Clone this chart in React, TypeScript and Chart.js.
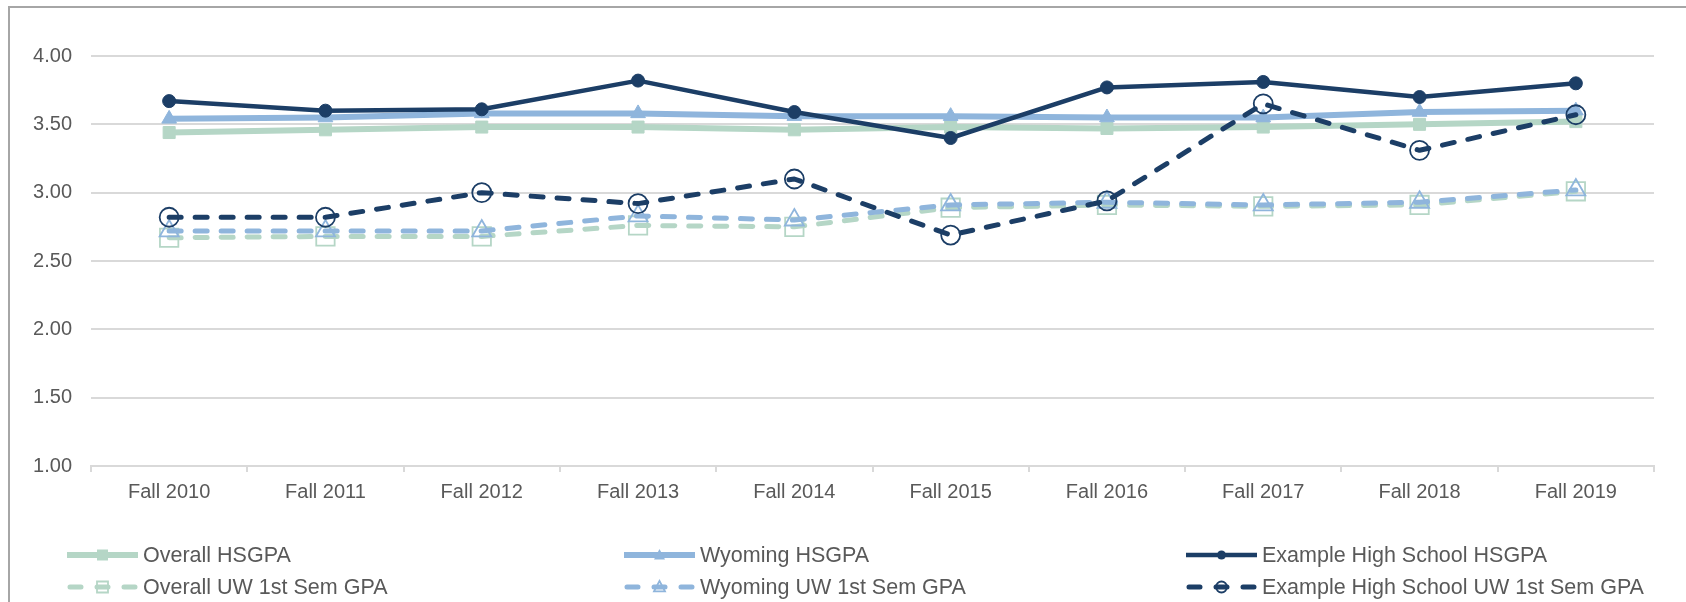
import React, { useEffect, useRef } from "react";
import { Chart, registerables } from "chart.js";

Chart.register(...registerables);

const categories = [
  "Fall 2010", "Fall 2011", "Fall 2012", "Fall 2013", "Fall 2014",
  "Fall 2015", "Fall 2016", "Fall 2017", "Fall 2018", "Fall 2019",
];

const overallHSGPA = [3.44, 3.46, 3.48, 3.48, 3.46, 3.48, 3.47, 3.48, 3.50, 3.52];
const wyomingHSGPA = [3.54, 3.55, 3.58, 3.58, 3.56, 3.56, 3.55, 3.55, 3.59, 3.60];
const exampleHSGPA = [3.67, 3.60, 3.61, 3.82, 3.59, 3.40, 3.77, 3.81, 3.70, 3.80];
const overallUW = [2.67, 2.68, 2.68, 2.76, 2.75, 2.89, 2.91, 2.90, 2.91, 3.01];
const wyomingUW = [2.72, 2.72, 2.72, 2.83, 2.80, 2.91, 2.93, 2.91, 2.93, 3.02];
const exampleUW = [2.82, 2.82, 3.00, 2.92, 3.10, 2.69, 2.94, 3.65, 3.31, 3.57];

const seriesNames = [
  "Overall HSGPA",
  "Wyoming HSGPA",
  "Example High School HSGPA",
  "Overall UW 1st Sem GPA",
  "Wyoming UW 1st Sem GPA",
  "Example High School UW 1st Sem GPA",
];

const yMin = 1;
const yMax = 4;
const yStep = 0.5;

const DARK = "#1c3e66";
const BLUE = "#8fb5dc";
const GREEN = "#b5d6c6";
const TEXT = "#595959";
const GRID = "#d9d9d9";
const FONT = "'Liberation Sans', Arial, sans-serif";

type Style = {
  color: string;
  width: number;
  dashed: boolean;
  shape: "rect" | "triangle" | "circle";
  filled: boolean;
};

const styles: Style[] = [
  { color: GREEN, width: 6, dashed: false, shape: "rect", filled: true },
  { color: BLUE, width: 6, dashed: false, shape: "triangle", filled: true },
  { color: DARK, width: 4.5, dashed: false, shape: "circle", filled: true },
  { color: GREEN, width: 5, dashed: true, shape: "rect", filled: false },
  { color: BLUE, width: 5, dashed: true, shape: "triangle", filled: false },
  { color: DARK, width: 5, dashed: true, shape: "circle", filled: false },
];

const pointRadii = [8.5, 8.5, 6.5, 13, 11, 9.5];

function drawMarker(ctx: CanvasRenderingContext2D, s: Style, x: number, y: number, r: number) {
  ctx.save();
  ctx.setLineDash([]);
  ctx.beginPath();
  if (s.shape === "rect") {
    ctx.rect(x - r, y - r, 2 * r, 2 * r);
  } else if (s.shape === "triangle") {
    ctx.moveTo(x, y - r * 1.1);
    ctx.lineTo(x + r, y + r * 0.8);
    ctx.lineTo(x - r, y + r * 0.8);
    ctx.closePath();
  } else {
    ctx.arc(x, y, r, 0, Math.PI * 2);
  }
  if (s.filled) {
    ctx.fillStyle = s.color;
    ctx.fill();
  } else {
    ctx.strokeStyle = s.color;
    ctx.lineWidth = 1.8;
    ctx.stroke();
  }
  ctx.restore();
}

const legendPlugin = {
  id: "customLegend",
  afterDraw(chart: any) {
    const ctx: CanvasRenderingContext2D = chart.ctx;
    const colX = [67, 624, 1186];
    const rowY = [555, 587];
    const lineLen = 71;
    seriesNames.forEach((name, i) => {
      const s = styles[i];
      const col = i % 3;
      const row = Math.floor(i / 3);
      const x0 = colX[col];
      const y = rowY[row];
      ctx.save();
      ctx.strokeStyle = s.color;
      ctx.lineWidth = s.width;
      ctx.lineCap = s.dashed ? "round" : "butt";
      if (s.dashed) {
        ctx.beginPath();
        ctx.moveTo(x0 + 3, y);
        ctx.lineTo(x0 + 14, y);
        ctx.moveTo(x0 + 57, y);
        ctx.lineTo(x0 + 68, y);
        ctx.stroke();
        ctx.beginPath();
        ctx.moveTo(x0 + 30, y);
        ctx.lineTo(x0 + 41, y);
        ctx.stroke();
      } else {
        ctx.beginPath();
        ctx.moveTo(x0, y);
        ctx.lineTo(x0 + lineLen, y);
        ctx.stroke();
      }
      ctx.restore();
      const mr = s.shape === "circle" ? (s.filled ? 4.5 : 5.5) : 5.5;
      drawMarker(ctx, s, x0 + lineLen / 2, y, mr);
      ctx.save();
      ctx.fillStyle = TEXT;
      ctx.font = `21.5px ${FONT}`;
      ctx.textBaseline = "middle";
      ctx.textAlign = "left";
      ctx.fillText(name, x0 + lineLen + 5, y + 1);
      ctx.restore();
    });
  },
};

export default function App() {
  const canvasRef = useRef<HTMLCanvasElement | null>(null);

  useEffect(() => {
    if (!canvasRef.current) return;
    const seriesData = [overallHSGPA, wyomingHSGPA, exampleHSGPA, overallUW, wyomingUW, exampleUW];
    const datasets = seriesData.map((d, i) => {
      const s = styles[i];
      return {
        label: seriesNames[i],
        data: d,
        borderColor: s.color,
        backgroundColor: s.color,
        borderWidth: s.width,
        borderDash: s.dashed ? [12, 14] : [],
        borderCapStyle: s.dashed ? "round" : "butt",
        borderJoinStyle: "round",
        tension: 0,
        fill: false,
        pointStyle: s.shape,
        pointRadius: pointRadii[i],
        pointHoverRadius: pointRadii[i],
        pointBackgroundColor: s.filled ? s.color : "rgba(0,0,0,0)",
        pointBorderColor: s.color,
        pointBorderWidth: s.filled ? 1 : 1.8,
        order: 5 - i,
      };
    });

    const chart = new Chart(canvasRef.current, {
      type: "line",
      data: { labels: categories, datasets: datasets as any },
      options: {
        animation: false,
        responsive: false,
        maintainAspectRatio: false,
        layout: { padding: { top: 56, right: 32, left: 0, bottom: 0 } },
        plugins: {
          legend: { display: false },
          tooltip: { enabled: false },
          title: { display: false },
        },
        scales: {
          x: {
            type: "category",
            offset: true,
            grid: {
              offset: true,
              drawOnChartArea: false,
              drawTicks: true,
              tickLength: 6,
              color: GRID,
              lineWidth: 2,
            },
            border: { display: true, color: GRID, width: 2 },
            ticks: {
              color: TEXT,
              font: { size: 20, family: FONT },
              padding: 8,
              maxRotation: 0,
              autoSkip: false,
            },
            afterFit: (scale: any) => {
              scale.height = 136;
            },
          },
          y: {
            min: yMin,
            max: yMax,
            grid: { color: GRID, lineWidth: 2, drawTicks: false },
            border: { display: false },
            ticks: {
              stepSize: yStep,
              color: TEXT,
              font: { size: 20, family: FONT },
              padding: 19,
              callback: (v: any) => Number(v).toFixed(2),
            },
            afterFit: (scale: any) => {
              scale.width = 91;
            },
          },
        },
      },
      plugins: [legendPlugin],
    });
    return () => chart.destroy();
  }, []);

  return (
    <div
      style={{
        position: "fixed",
        left: 0,
        top: 0,
        width: 1686,
        height: 602,
        background: "#ffffff",
        overflow: "hidden",
      }}
    >
      <div
        style={{
          position: "absolute",
          left: 8,
          top: 6,
          width: 2000,
          height: 1000,
          borderLeft: "2px solid #a6a6a6",
          borderTop: "2px solid #a6a6a6",
        }}
      />
      <canvas
        ref={canvasRef}
        width={1686}
        height={602}
        style={{ position: "absolute", left: 0, top: 0, width: 1686, height: 602 }}
      />
    </div>
  );
}
